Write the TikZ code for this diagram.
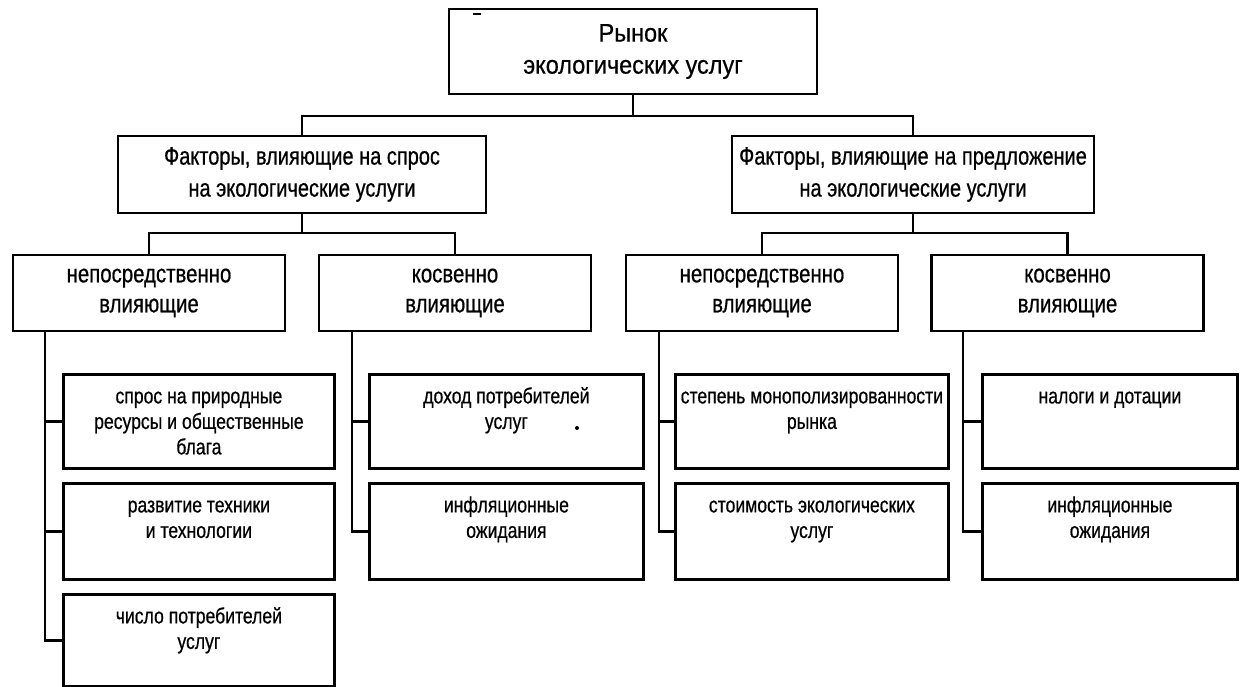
\documentclass[tikz,border=0pt]{standalone}
\usepackage{fontspec}
\setmainfont{Liberation Sans}
\newfontfamily\condfont[FakeStretch=0.8,FakeBold=0.6]{Liberation Sans}
\newfontfamily\topfont[FakeStretch=0.92,FakeBold=0.6]{Liberation Sans}
\newcommand\kidtext[3]{\parbox[c][#2][t]{#1}{\centering\rule{0pt}{29pt}#3}}
\tikzset{
  box/.style={draw, line width=2.8pt, inner sep=0pt, align=center},
  lvlone/.style={box, font=\topfont\fontsize{25.5}{32}\selectfont},
  lvltwo/.style={box, font=\condfont\fontsize{25}{32}\selectfont},
  lvlthree/.style={box, font=\condfont\fontsize{25.5}{30}\selectfont, minimum width=272pt, minimum height=76pt},
  kid/.style={draw, line width=2.8pt, inner sep=0pt, anchor=north west, font=\condfont\fontsize{22}{25.5}\selectfont},
  conn/.style={line width=2.6pt}
}
\begin{document}
\begin{tikzpicture}[x=1pt,y=-1pt]
\useasboundingbox (0,0) rectangle (1241,687);
% top
\node[lvlone, minimum width=368pt, minimum height=85pt] (T) at (633,51.5) {Рынок\\экологических услуг};
% level 2
\node[lvltwo, minimum width=368pt, minimum height=77pt] (Da) at (302,174.5) {Факторы, влияющие на спрос\\на экологические услуги};
\node[lvltwo, minimum width=362pt, minimum height=77pt] (Sa) at (913,174.5) {Факторы, влияющие на предложение\\на экологические услуги};
% level 3
\node[lvlthree] (A1) at (149,293) {непосредственно\\влияющие};
\node[lvlthree] (A2) at (455,293) {косвенно\\влияющие};
\node[lvlthree] (B1) at (762,293) {непосредственно\\влияющие};
\node[lvlthree] (B2) at (1067.5,293) {косвенно\\влияющие};
% level 4
\node[kid] (a11) at (62,373) {\kidtext{271pt}{94pt}{спрос на природные\\ресурсы и общественные\\блага}};
\node[kid] (a12) at (62,482) {\kidtext{271pt}{96pt}{развитие техники\\и технологии}};
\node[kid] (a13) at (62,593) {\kidtext{271pt}{92pt}{число потребителей\\услуг}};
\node[kid] (a21) at (368,373) {\kidtext{274pt}{94pt}{доход потребителей\\услуг}};
\node[kid] (a22) at (368,482) {\kidtext{274pt}{96pt}{инфляционные\\ожидания}};
\node[kid] (b11) at (674,373) {\kidtext{273pt}{94pt}{степень монополизированности\\рынка}};
\node[kid] (b12) at (674,482) {\kidtext{273pt}{96pt}{стоимость экологических\\услуг}};
\node[kid] (b21) at (981,373) {\kidtext{255pt}{94pt}{налоги и дотации}};
\node[kid] (b22) at (981,482) {\kidtext{255pt}{96pt}{инфляционные\\ожидания}};
% junctions
\coordinate (j1) at (633,116);
\coordinate (j2) at (302,233);
\coordinate (j3) at (913,233);
\coordinate (ta) at (45,331);
\coordinate (tb) at (352,331);
\coordinate (tc) at (659,331);
\coordinate (td) at (963,331);
% connectors
\draw[conn] (T.south) -- (j1);
\draw[conn] (Da.north) |- (j1);
\draw[conn] (Sa.north) |- (j1);
\draw[conn] (Da.south) -- (j2);
\draw[conn] (A1.north) |- (j2);
\draw[conn] (A2.north) |- (j2);
\draw[conn] (Sa.south) -- (j3);
\draw[conn] (B1.north) |- (j3);
\draw[conn] (B2.north) |- (j3);
\draw[conn] (ta) |- (a11.west);
\draw[conn] (ta) |- (a12.west);
\draw[conn] (ta) |- (a13.west);
\draw[conn] (tb) |- (a21.west);
\draw[conn] (tb) |- (a22.west);
\draw[conn] (tc) |- (b11.west);
\draw[conn] (tc) |- (b12.west);
\draw[conn] (td) |- (b21.west);
\draw[conn] (td) |- (b22.west);
% scan marks
\draw[line width=1.5pt] (473,14) -- (481,14);
\fill (577,428) circle (2pt);
\end{tikzpicture}
\end{document}
